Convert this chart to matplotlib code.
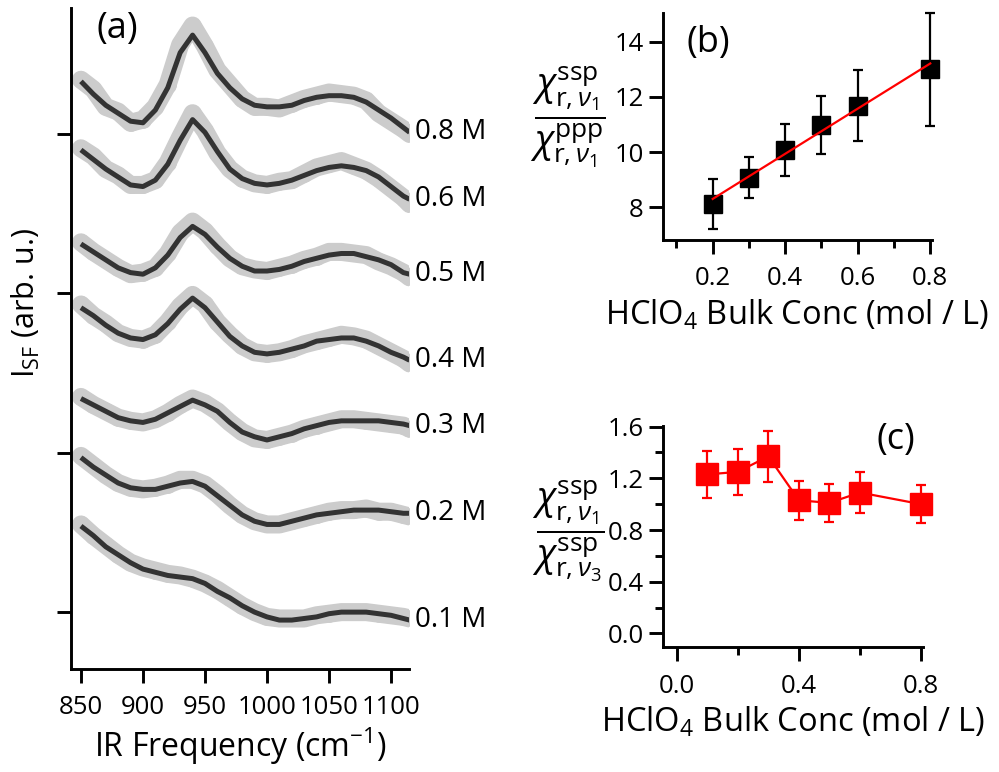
import numpy as np
import matplotlib.pyplot as plt

plt.rcParams['font.family'] = ['Open Sans', 'DejaVu Sans']
plt.rcParams['mathtext.fontset'] = 'custom'
plt.rcParams['mathtext.rm'] = 'Open Sans'
plt.rcParams['mathtext.it'] = 'Open Sans:italic'
plt.rcParams['mathtext.bf'] = 'Open Sans:bold'

# ---- panel (a): SFG spectra, stacked (arb. u.)
wn = [850, 860, 870, 880, 890, 900, 910, 920, 930, 940, 950, 960, 970, 980,
      990, 1000, 1010, 1020, 1030, 1040, 1050, 1060, 1070, 1080, 1090, 1100, 1110, 1115]
conc_labels = ['0.1 M', '0.2 M', '0.3 M', '0.4 M', '0.5 M', '0.6 M', '0.8 M']

fit_01 = [0.54, 0.48, 0.41, 0.36, 0.31, 0.27, 0.25, 0.23, 0.22, 0.21, 0.18, 0.13, 0.09, 0.04,
          0.00, -0.03, -0.05, -0.05, -0.04, -0.03, -0.01, 0.00, 0.00, 0.00, -0.01, -0.02, -0.04, -0.05]
fit_02 = [0.97, 0.91, 0.86, 0.81, 0.78, 0.77, 0.77, 0.79, 0.81, 0.82, 0.79, 0.73, 0.67, 0.61,
          0.57, 0.55, 0.55, 0.57, 0.59, 0.61, 0.62, 0.63, 0.64, 0.64, 0.64, 0.63, 0.62, 0.62]
fit_03 = [1.34, 1.30, 1.26, 1.22, 1.20, 1.19, 1.21, 1.25, 1.29, 1.33, 1.30, 1.26, 1.19, 1.13,
          1.10, 1.08, 1.10, 1.12, 1.15, 1.17, 1.19, 1.20, 1.20, 1.20, 1.20, 1.19, 1.18, 1.17]
fit_04 = [1.91, 1.86, 1.80, 1.75, 1.72, 1.71, 1.74, 1.81, 1.90, 1.97, 1.91, 1.82, 1.73, 1.67,
          1.63, 1.62, 1.63, 1.65, 1.67, 1.70, 1.71, 1.72, 1.72, 1.70, 1.67, 1.63, 1.60, 1.58]
fit_05 = [2.31, 2.26, 2.21, 2.16, 2.13, 2.12, 2.16, 2.24, 2.35, 2.42, 2.37, 2.29, 2.22, 2.17,
          2.14, 2.14, 2.15, 2.17, 2.20, 2.22, 2.24, 2.25, 2.25, 2.23, 2.21, 2.18, 2.13, 2.12]
fit_06 = [2.90, 2.84, 2.78, 2.73, 2.68, 2.67, 2.71, 2.81, 2.96, 3.09, 3.01, 2.89, 2.78, 2.72,
          2.69, 2.68, 2.69, 2.71, 2.74, 2.77, 2.79, 2.80, 2.79, 2.77, 2.73, 2.67, 2.61, 2.59]
fit_08 = [3.33, 3.25, 3.18, 3.13, 3.08, 3.07, 3.15, 3.29, 3.51, 3.62, 3.51, 3.38, 3.29, 3.22,
          3.18, 3.17, 3.17, 3.18, 3.21, 3.23, 3.24, 3.24, 3.23, 3.20, 3.15, 3.10, 3.04, 3.01]

data_01 = [0.55, 0.48, 0.42, 0.36, 0.31, 0.28, 0.26, 0.24, 0.23, 0.21, 0.18, 0.14, 0.09, 0.04,
           0.00, -0.03, -0.04, -0.04, -0.04, -0.02, -0.01, 0.00, 0.00, 0.00, -0.01, -0.02, -0.03, -0.04]
data_02 = [0.98, 0.92, 0.86, 0.81, 0.78, 0.77, 0.78, 0.80, 0.83, 0.83, 0.80, 0.74, 0.67, 0.61,
           0.57, 0.55, 0.55, 0.57, 0.59, 0.61, 0.63, 0.64, 0.64, 0.65, 0.63, 0.63, 0.61, 0.60]
data_03 = [1.35, 1.30, 1.26, 1.22, 1.20, 1.19, 1.21, 1.25, 1.30, 1.34, 1.31, 1.26, 1.19, 1.13,
           1.09, 1.08, 1.10, 1.12, 1.15, 1.17, 1.19, 1.21, 1.21, 1.20, 1.19, 1.18, 1.17, 1.15]
data_04 = [1.93, 1.86, 1.81, 1.75, 1.72, 1.71, 1.74, 1.82, 1.92, 1.99, 1.93, 1.82, 1.74, 1.67,
           1.63, 1.62, 1.63, 1.65, 1.68, 1.70, 1.72, 1.74, 1.73, 1.71, 1.67, 1.63, 1.59, 1.56]
data_05 = [2.32, 2.26, 2.21, 2.16, 2.12, 2.13, 2.16, 2.25, 2.38, 2.45, 2.39, 2.30, 2.22, 2.17,
           2.15, 2.14, 2.16, 2.18, 2.21, 2.23, 2.26, 2.26, 2.25, 2.24, 2.20, 2.17, 2.13, 2.10]
data_06 = [2.91, 2.86, 2.78, 2.74, 2.68, 2.68, 2.71, 2.82, 2.98, 3.13, 3.02, 2.88, 2.78, 2.72,
           2.69, 2.68, 2.70, 2.71, 2.75, 2.79, 2.81, 2.83, 2.80, 2.77, 2.72, 2.66, 2.60, 2.56]
data_08 = [3.34, 3.28, 3.17, 3.14, 3.07, 3.09, 3.17, 3.31, 3.56, 3.68, 3.55, 3.40, 3.31, 3.22,
           3.17, 3.17, 3.16, 3.19, 3.22, 3.24, 3.26, 3.25, 3.24, 3.21, 3.13, 3.08, 3.03, 3.00]

fits = [fit_01, fit_02, fit_03, fit_04, fit_05, fit_06, fit_08]
datas = [data_01, data_02, data_03, data_04, data_05, data_06, data_08]

# ---- panel (b): ssp/ppp ratio of nu1
conc_b = [0.2, 0.3, 0.4, 0.5, 0.6, 0.8]
ratio_b = [8.12, 9.07, 10.08, 10.98, 11.68, 13.0]
err_b = [0.9, 0.74, 0.95, 1.05, 1.28, 2.05]

# ---- panel (c): nu1/nu3 ssp ratio
conc_c = [0.1, 0.2, 0.3, 0.4, 0.5, 0.6, 0.8]
ratio_c = [1.23, 1.25, 1.37, 1.03, 1.01, 1.09, 1.00]
err_c = [0.18, 0.18, 0.2, 0.15, 0.146, 0.158, 0.145]

fig = plt.figure(figsize=(9.99, 7.72), dpi=100)
ax_a = fig.add_axes([0.0711, 0.1334, 0.3383, 0.8562])
ax_b = fig.add_axes([0.6637, 0.6891, 0.2693, 0.2940])
ax_c = fig.add_axes([0.6637, 0.1615, 0.2600, 0.2867])

for ax in (ax_a, ax_b, ax_c):
    ax.spines['top'].set_visible(False)
    ax.spines['right'].set_visible(False)
    ax.spines['left'].set_linewidth(2.1)
    ax.spines['bottom'].set_linewidth(2.1)
    ax.tick_params(direction='out', width=2.1, length=10, labelsize=18.5, color='black')
    ax.tick_params(which='minor', direction='out', width=2.1, length=6)

grey = '#cccccc'
for fit, data, lab in zip(fits, datas, conc_labels):
    ax_a.plot(wn, data, color=grey, lw=13, solid_capstyle='round',
              solid_joinstyle='round', zorder=1)
    ax_a.plot(wn, data, 'o', color=grey, ms=11, zorder=1)
    ax_a.plot(wn, fit, color='#333333', lw=3.6, zorder=2,
              solid_capstyle='butt', solid_joinstyle='round')
    ax_a.text(1119, fit[-1], lab, fontsize=20, ha='left', va='center', clip_on=False)

ax_a.set_xlim(842, 1114.5)
ax_a.set_ylim(-0.357, 3.79)
ax_a.set_xticks([850, 900, 950, 1000, 1050, 1100])
ax_a.set_yticks([0, 1, 2, 3])
ax_a.tick_params(axis='y', labelleft=False)
ax_a.tick_params(axis='x', pad=9)
ax_a.set_xlabel('IR Frequency (cm$^{-1}$)', fontsize=23, labelpad=4)
ax_a.set_ylabel(r'I$_{\mathrm{SF}}$ (arb. u.)', fontsize=22)
ax_a.yaxis.set_label_coords(-0.086, 0.5537)
fig.text(96 / 999, 1 - 29 / 772, '(a)', fontsize=26, ha='left', va='center')

# (b)
ax_b.errorbar(conc_b, ratio_b, yerr=err_b, fmt='s', color='black', ms=13.5,
              capsize=3.5, elinewidth=1.6, capthick=1.6, clip_on=False, zorder=2)
coef = np.polyfit(conc_b, ratio_b, 1)
xb = np.array([conc_b[0], conc_b[-1]])
ax_b.plot(xb, np.polyval(coef, xb), color='red', lw=1.6, zorder=3)
ax_b.set_xlim(0.063, 0.805)
ax_b.set_ylim(6.82, 15.04)
ax_b.set_xticks([0.2, 0.4, 0.6, 0.8])
ax_b.set_xticks([0.1, 0.3, 0.5, 0.7], minor=True)
ax_b.set_yticks([8, 10, 12, 14])
ax_b.tick_params(axis='x', pad=9)
ax_b.tick_params(axis='y', pad=4)
ax_b.set_xlabel('HClO$_4$ Bulk Conc (mol / L)', fontsize=23.5, labelpad=5)
fig.text(687 / 999, 1 - 43 / 772, '(b)', fontsize=26, ha='left', va='center')
fig.text(568 / 999, 1 - 117 / 772,
         r'$\dfrac{\chi^{\mathrm{ssp}}_{\mathrm{r},\nu_1}}{\chi^{\mathrm{ppp}}_{\mathrm{r},\nu_1}}$',
         fontsize=27, ha='center', va='center')

# (c)
ax_c.errorbar(conc_c, ratio_c, yerr=err_c, fmt='s-', color='red', ms=16, lw=1.6,
              capsize=3.5, elinewidth=1.6, capthick=1.6, clip_on=False)
ax_c.set_xlim(-0.045, 0.806)
ax_c.set_ylim(-0.108, 1.605)
ax_c.set_xticks([0.0, 0.4, 0.8])
ax_c.set_xticks([0.2, 0.6], minor=True)
ax_c.set_yticks([0.0, 0.4, 0.8, 1.2, 1.6])
ax_c.set_yticks([0.2, 0.6, 1.0, 1.4], minor=True)
ax_c.set_xticklabels(['0.0', '0.4', '0.8'])
ax_c.set_yticklabels(['0.0', '0.4', '0.8', '1.2', '1.6'])
ax_c.tick_params(axis='x', pad=9)
ax_c.tick_params(axis='y', pad=4)
ax_c.set_xlabel('HClO$_4$ Bulk Conc (mol / L)', fontsize=23.5, labelpad=5)
fig.text(876 / 999, 1 - 440 / 772, '(c)', fontsize=26, ha='left', va='center')
fig.text(568 / 999, 1 - 531 / 772,
         r'$\dfrac{\chi^{\mathrm{ssp}}_{\mathrm{r},\nu_1}}{\chi^{\mathrm{ssp}}_{\mathrm{r},\nu_3}}$',
         fontsize=27, ha='center', va='center')

fig.savefig('out.png', dpi=100)
